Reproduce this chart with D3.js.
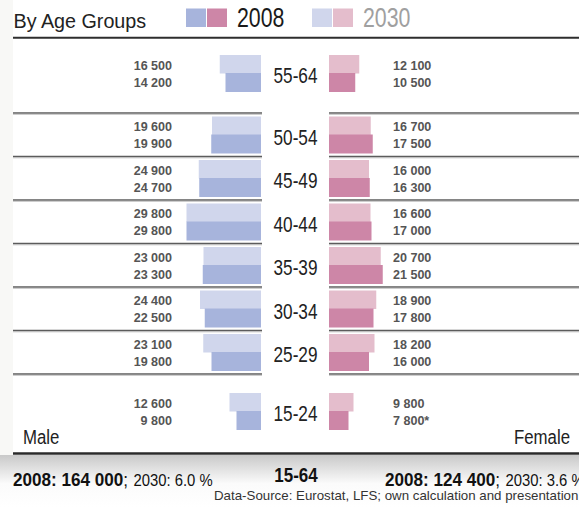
<!DOCTYPE html>
<html>
<head>
<meta charset="utf-8">
<script src="https://cdn.jsdelivr.net/npm/d3@7"></script>
<style>
  html, body { margin: 0; padding: 0; background: #fff; }
  svg { display: block; font-family: "Liberation Sans", Arial, sans-serif; }
</style>
</head>
<body>
<svg id="chart" width="579" height="507"></svg>
<script>
// age groups, top to bottom
const ages = ["55-64", "50-54", "45-49", "40-44", "35-39", "30-34", "25-29", "15-24"];
const male2030 = [16500, 19600, 24900, 29800, 23000, 24400, 23100, 12600];
const male2008 = [14200, 19900, 24700, 29800, 23300, 22500, 19800, 9800];
const female2030 = [12100, 16700, 16000, 16600, 20700, 18900, 18200, 9800];
const female2008 = [10500, 17500, 16300, 17000, 21500, 17800, 16000, 7800];
const femaleNotes = ["", "", "", "", "", "", "", "*"];
const years = ["2008", "2030"];

const colors = {
    male2008: "#a7b4dc", male2030: "#d0d6ec",
    female2008: "#cd86a7", female2030: "#e4bdcc"
};

const svg = d3.select("#chart");
const fmt = v => d3.format(",")(v).replace(/,/g, " ");

// left margin tint and footer shadow
const defs = svg.append("defs");
const grad = defs.append("linearGradient").attr("id", "foot").attr("x1", 0).attr("x2", 0).attr("y1", 0).attr("y2", 1);
grad.append("stop").attr("offset", "0%").attr("stop-color", "#c9c9c9");
grad.append("stop").attr("offset", "55%").attr("stop-color", "#fbfbfb");
grad.append("stop").attr("offset", "100%").attr("stop-color", "#ffffff");
svg.append("rect").attr("x", 0).attr("y", 0).attr("width", 13).attr("height", 455).attr("fill", "#f8f8f6");
svg.append("rect").attr("x", 0).attr("y", 455).attr("width", 579).attr("height", 52).attr("fill", "url(#foot)");

// text helper: condensed look via horizontal scale
function txt(x, y, s, size, opts = {}) {
    const t = svg.append("text")
        .attr("transform", `translate(${x},${y}) scale(${opts.sx || 1},1)`)
        .attr("font-size", size)
        .attr("font-weight", opts.weight || "normal")
        .attr("fill", opts.fill || "#222")
        .attr("text-anchor", opts.anchor || "start");
    if (s !== null) t.text(s);
    return t;
}

const maleX0 = 261, femaleX0 = 329;
const x = d3.scaleLinear().domain([0, 30000]).range([0, 75]);
const y = d3.scaleLinear().domain([0, 1, 6, 7]).range([73.5, 135, 352.5, 411.5]);
const barH = 18.5;

// title and legend
txt(13.5, 27.5, "By Age Groups", 21, { sx: 0.94 });
const leg = [
    { x: 186, c: [colors.male2008, colors.female2008], label: years[0], fill: "#1a1a1a" },
    { x: 312, c: [colors.male2030, colors.female2030], label: years[1], fill: "#a0a0a0" }
];
leg.forEach(l => {
    l.c.forEach((c, k) => {
        svg.append("rect").attr("x", l.x + k * 21).attr("y", 8.5).attr("width", 20).attr("height", 18.5).attr("fill", c);
    });
    txt(l.x + 51, 26.7, l.label, 27, { sx: 0.79, fill: l.fill });
});

// rules
svg.append("line").attr("x1", 13).attr("x2", 579).attr("y1", 37.7).attr("y2", 37.7)
    .attr("stroke", "#2e2e2e").attr("stroke-width", 2);
const seps = d3.range(1, 7).map(i => y(i) - 22).concat([y(6) + 21.5]);
seps.forEach(sy => {
    [[13, 262], [329, 579]].forEach(([a, b]) => {
        svg.append("line").attr("x1", a).attr("x2", b).attr("y1", sy).attr("y2", sy)
            .attr("stroke", "#5c5c5c").attr("stroke-width", 1.6);
        svg.append("line").attr("x1", a).attr("x2", b).attr("y1", sy + 1.3).attr("y2", sy + 1.3)
            .attr("stroke", "#b0b0b0").attr("stroke-width", 0.8);
    });
});
svg.append("line").attr("x1", 13).attr("x2", 579).attr("y1", 453.5).attr("y2", 453.5)
    .attr("stroke", "#2a2a2a").attr("stroke-width", 2.4);

// bars
const rows = ages.map((a, i) => ({
    age: a, i,
    m30: male2030[i], m08: male2008[i], f30: female2030[i], f08: female2008[i], note: femaleNotes[i]
}));

const g = svg.append("g");
g.selectAll("rect.m30").data(rows).join("rect").attr("class", "m30")
    .attr("x", d => maleX0 - x(d.m30)).attr("y", d => y(d.i) - barH)
    .attr("width", d => x(d.m30)).attr("height", barH).attr("fill", colors.male2030);
g.selectAll("rect.m08").data(rows).join("rect").attr("class", "m08")
    .attr("x", d => maleX0 - x(d.m08)).attr("y", d => y(d.i) - 0.5)
    .attr("width", d => x(d.m08)).attr("height", barH + 0.5).attr("fill", colors.male2008);
g.selectAll("rect.f30").data(rows).join("rect").attr("class", "f30")
    .attr("x", femaleX0).attr("y", d => y(d.i) - barH)
    .attr("width", d => x(d.f30)).attr("height", barH).attr("fill", colors.female2030);
g.selectAll("rect.f08").data(rows).join("rect").attr("class", "f08")
    .attr("x", femaleX0).attr("y", d => y(d.i) - 0.5)
    .attr("width", d => x(d.f08)).attr("height", barH + 0.5).attr("fill", colors.female2008);

// value labels and age labels
rows.forEach(d => {
    const cy = y(d.i);
    const numStyle = { weight: "bold", fill: "#555", sx: 0.93 };
    txt(172, cy - 4, fmt(d.m30), 13.5, { ...numStyle, anchor: "end" });
    txt(172, cy + 13, fmt(d.m08), 13.5, { ...numStyle, anchor: "end" });
    txt(393, cy - 4, fmt(d.f30), 13.5, numStyle);
    txt(393, cy + 13, fmt(d.f08) + d.note, 13.5, numStyle);
    txt(295.5, cy + 9.5, d.age, 21.5, { sx: 0.8, anchor: "middle", fill: "#222" });
});

txt(23, 443.5, "Male", 21, { sx: 0.8 });
txt(570, 443.5, "Female", 21, { sx: 0.8, anchor: "end" });

// footer totals
function total(x0, bold, rest) {
    const t = txt(x0, 485.5, null, 19, { sx: 0.9, fill: "#111" });
    t.append("tspan").attr("font-weight", "bold").text(bold);
    t.append("tspan").text(";");
    t.append("tspan").attr("font-size", 16.5).attr("dx", 6).text(rest);
}
total(13, "2008: 164 000", "2030: 6.0 %");
total(385, "2008: 124 400", "2030: 3.6 %");
txt(296, 481.5, "15-64", 20, { weight: "bold", sx: 0.85, anchor: "middle", fill: "#111" });
txt(214, 500, "Data-Source: Eurostat, LFS; own calculation and presentation", 13.3, { fill: "#333" });
</script>
</body>
</html>
